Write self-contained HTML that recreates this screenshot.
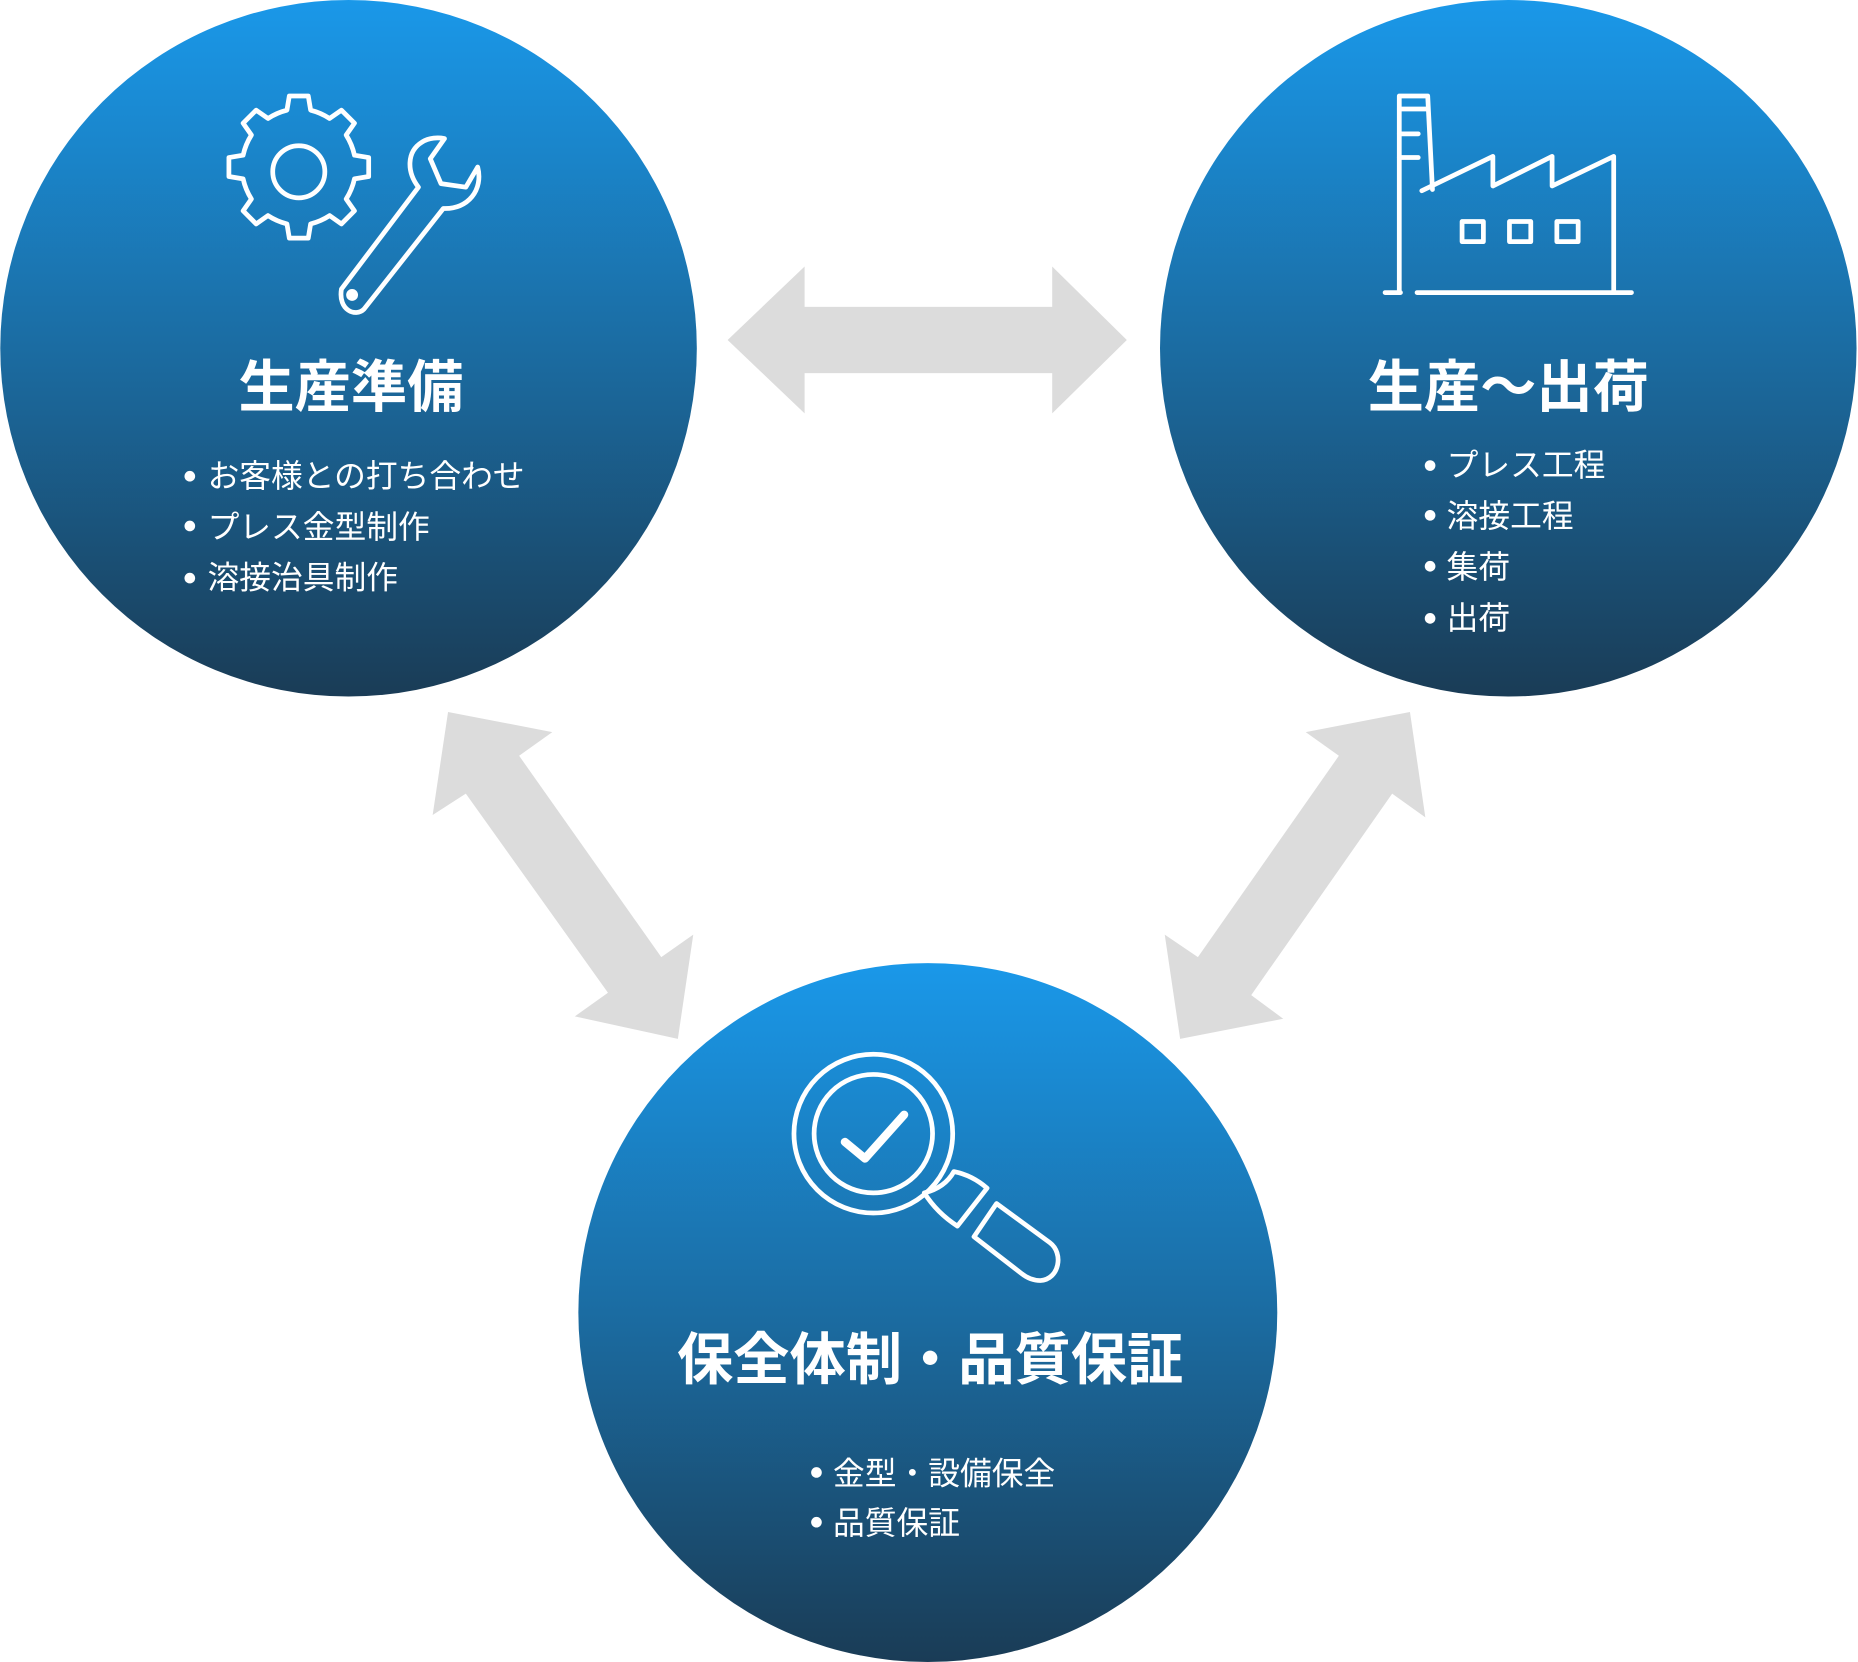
<!DOCTYPE html>
<html><head><meta charset="utf-8"><style>
html,body{margin:0;padding:0;background:#fff;}
svg{display:block;}
text{font-family:"Liberation Sans","Noto Sans CJK JP",sans-serif;fill:#fff;}
</style></head><body>
<svg width="1858" height="1662" viewBox="0 0 1568 1403" xmlns="http://www.w3.org/2000/svg">
<defs>
<linearGradient id="g" x1="0" y1="0" x2="0" y2="1">
<stop offset="0" stop-color="#1a98e9"/>
<stop offset="0.5" stop-color="#1b6ca2"/>
<stop offset="1" stop-color="#1a3c56"/>
</linearGradient>
</defs>
<g fill="#dcdcdc">
<polygon points="614,287 679,225 679,259 888,259 888,225 951,287 888,349 888,315 679,315 679,349"/>
<polygon points="378,601 466,618 438,638 558,808 585,789 572,877 485,858 513,838 393,670 365,688"/>
<polygon points="1190,601 1203,690 1175,670 1056,840 1083,860 996,877 983,789 1011,808 1130,638 1102,618"/>
</g>
<circle cx="294" cy="294" r="294" fill="url(#g)"/>
<circle cx="1273" cy="294" r="294" fill="url(#g)"/>
<circle cx="783" cy="1108" r="295" fill="url(#g)"/>

<g fill="none" stroke="#fff" stroke-width="4" stroke-linejoin="round" stroke-linecap="round">
<g transform="translate(252,145)">
<circle r="22"/>
<path d="M-10,-52 L-8,-64 L8,-64 L10,-52 A53,53 0 0 1 26,-45 L36,-52 L47,-41 L40,-31 A53,53 0 0 1 47,-14 L59,-12 L59,4 L47,6 A53,53 0 0 1 40,23 L47,33 L36,44 L26,37 A53,53 0 0 1 10,44 L8,56 L-8,56 L-10,44 A53,53 0 0 1 -26,37 L-36,44 L-47,33 L-40,23 A53,53 0 0 1 -47,6 L-59,4 L-59,-12 L-47,-14 A53,53 0 0 1 -40,-31 L-47,-41 L-36,-52 L-26,-45 A53,53 0 0 1 -10,-52 Z"/>
</g>
<path d="M288,244 L353,158 C343,145 343,128 356,120 C362,116 370,116 375,117 L363,134 L372,155 L393,158 L403,141 C408,160 395,177 374,176 L307,261 C300,268 285,262 288,244 Z"/>
<circle cx="297" cy="249" r="3" fill="#fff"/>
<path d="M1181,247 L1181,81 L1205,81 L1209,160"/>
<path d="M1181,92 L1205,92 M1181,113 L1197,113 M1181,133 L1197,133"/>
<path d="M1200,161 L1260,132 L1260,157 L1310,132 L1310,157 L1362,132 L1362,247"/>
<path d="M1169,247 L1182,247 M1196,247 L1377,247"/>
<rect x="1234" y="187" width="18" height="17"/>
<rect x="1274" y="187" width="18" height="17"/>
<rect x="1314" y="187" width="18" height="17"/>
<circle cx="737" cy="957" r="67"/>
<circle cx="737" cy="957" r="50"/>
<path d="M713,964 L730,978 L763,941" stroke-width="7"/>
<path d="M780,1007 C787,1018 797,1028 808,1035 L833,1003 C825,996 815,991 805,989 C800,998 792,1004 780,1007 Z"/>
<path d="M841,1016 L886,1049 C898,1058 894,1080 878,1081 C872,1081 867,1079 862,1075 L822,1044 Z"/>
</g>

<g font-weight="bold" text-anchor="middle">
<text x="296" y="343" font-size="47.5">生産準備</text>
<text x="1273" y="343" font-size="47.5">生産〜出荷</text>
<text x="785" y="1164" font-size="47.5">保全体制・品質保証</text>
</g>
<g font-size="26.8">
<circle cx="160" cy="402" r="4.5" fill="#fff"/><text x="175" y="411">お客様との打ち合わせ</text>
<circle cx="160" cy="444" r="4.5" fill="#fff"/><text x="175" y="454">プレス金型制作</text>
<circle cx="160" cy="488" r="4.5" fill="#fff"/><text x="175" y="497">溶接治具制作</text>
<circle cx="1207" cy="393" r="4.5" fill="#fff"/><text x="1221" y="402">プレス工程</text>
<circle cx="1207" cy="435" r="4.5" fill="#fff"/><text x="1221" y="445">溶接工程</text>
<circle cx="1207" cy="478" r="4.5" fill="#fff"/><text x="1221" y="488">集荷</text>
<circle cx="1207" cy="522" r="4.5" fill="#fff"/><text x="1221" y="531">出荷</text>
<circle cx="689" cy="1243" r="4.5" fill="#fff"/><text x="703" y="1253">金型・設備保全</text>
<circle cx="689" cy="1285" r="4.5" fill="#fff"/><text x="703" y="1295">品質保証</text>
</g>
</svg>
</body></html>
